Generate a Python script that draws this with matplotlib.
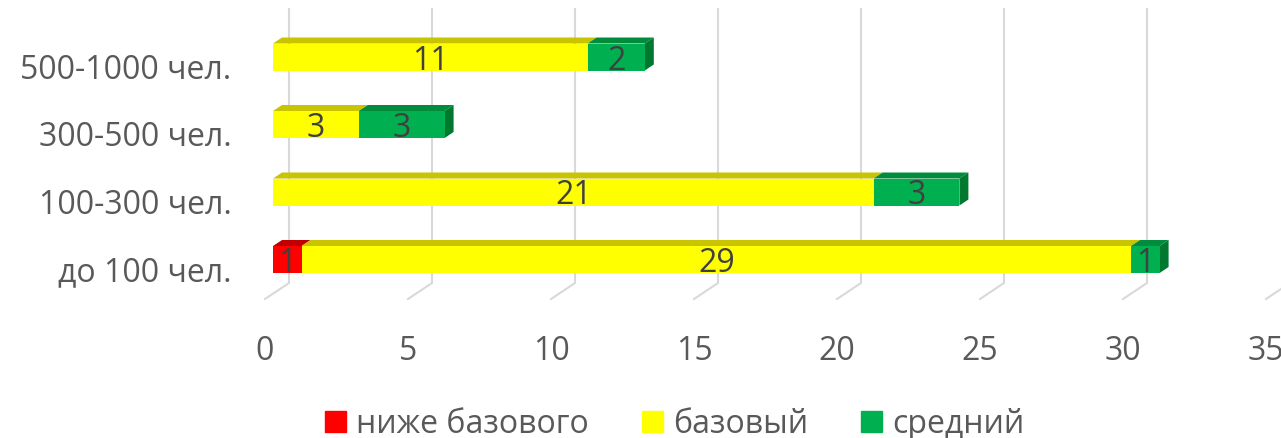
import numpy as np
import matplotlib.pyplot as plt
from matplotlib.patches import Polygon, Patch

plt.rcParams['font.family'] = ['Open Sans', 'DejaVu Sans']

categories = ['до 100 чел.', '100-300 чел.', '300-500 чел.', '500-1000 чел.']
below = [1, 0, 0, 0]
base = [29, 21, 3, 11]
mid = [1, 3, 3, 2]
series = [('ниже базового', below), ('базовый', base), ('средний', mid)]
xticks = [0, 5, 10, 15, 20, 25, 30, 35]

front = {'ниже базового': '#FF0000', 'базовый': '#FFFF00', 'средний': '#00B050'}
top = {'ниже базового': '#C00000', 'базовый': '#C8C400', 'средний': '#008C3C'}
side = {'ниже базового': '#A00000', 'базовый': '#B0B000', 'средний': '#007830'}

W, H = 1281, 439
fs = 23
fig = plt.figure(figsize=(W / 100, H / 100), dpi=100)
# pixel geometry of the plot area
L, R, B, T = 240, 1281, 300, 10
ax = fig.add_axes([L / W, (H - B) / H, (R - L) / W, (B - T) / H])
pxu = 28.6   # px per value unit
pyu = 67.5   # px per category
ax.set_xlim((L - 265) / pxu, (R - 265) / pxu)
ax.set_ylim((269 - B) / pyu, (269 - T) / pyu)

# offsets in data units
bar_dx = 8 / pxu          # bars front plane from floor front edge
wall_dx = 24 / pxu        # back wall
wall_dy = 16 / pyu
dep_x = 9 / pxu           # bar depth
dep_y = 6 / pyu
bar_c = 8.5 / pyu         # bar centre above tick
bar_h = 27 / pyu
y0 = (269 - B) / pyu
y_top = (269 - T) / pyu

# gridlines: back wall + floor diagonals
for v in xticks:
    ax.plot([v, v + wall_dx, v + wall_dx], [y0, y0 + wall_dy, y_top],
            color='#D9D9D9', lw=1.5, clip_on=False, zorder=1)

for i, cat in enumerate(categories):
    yc = i + bar_c
    yb, yt = yc - bar_h / 2, yc + bar_h / 2
    left = 0.0
    last = None
    for name, vals in series:
        v = vals[i]
        if v == 0:
            continue
        x0 = left + bar_dx
        x1 = x0 + v
        ax.add_patch(Polygon([(x0, yt), (x1, yt), (x1 + dep_x, yt + dep_y), (x0 + dep_x, yt + dep_y)],
                             closed=True, fc=top[name], ec='none', zorder=3))
        ax.barh(yc, v, left=x0, height=bar_h, color=front[name], zorder=4)
        ax.text((x0 + x1) / 2, yc - 3 / pyu, str(v), ha='center', va='center',
                fontsize=fs, color='#404040', zorder=6)
        left += v
        last = (name, x1)
    name, x1 = last
    ax.add_patch(Polygon([(x1, yb), (x1, yt), (x1 + dep_x, yt + dep_y), (x1 + dep_x, yb + dep_y)],
                         closed=True, fc=side[name], ec='none', zorder=3))

ax.set_xticks(xticks, [str(v) for v in xticks])
ax.set_yticks(range(len(categories)), categories)
ax.tick_params(length=0, labelsize=fs, labelcolor='#595959')
ax.tick_params(axis='x', pad=25)
ax.tick_params(axis='y', pad=6)
for s in ax.spines.values():
    s.set_visible(False)
ax.set_facecolor('none')

handles = [Patch(color=front[n]) for n, _ in series]
fig.legend(handles, [n for n, _ in series], loc='center', bbox_to_anchor=(674.5 / W, 1 - 425 / H),
           ncol=3, frameon=False, fontsize=fs, labelcolor='#595959',
           handlelength=0.66, handleheight=0.66, handletextpad=0.31, columnspacing=1.66,
           borderpad=0, borderaxespad=0)

fig.savefig('out.png', dpi=100)
